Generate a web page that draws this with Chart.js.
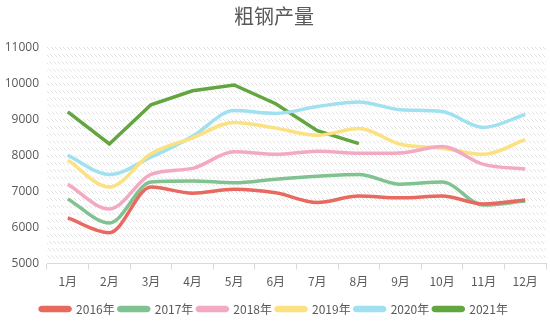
<!DOCTYPE html>
<html>
<head>
<meta charset="utf-8">
<script src="https://cdn.jsdelivr.net/npm/chart.js@4"></script>
<style>
  body { margin: 0; background: #fff; }
  #wrap { width: 550px; height: 326px; }
</style>
</head>
<body>
<div id="wrap"><canvas id="lineChart"></canvas></div>
<script>
const months = ["1月", "2月", "3月", "4月", "5月", "6月", "7月", "8月", "9月", "10月", "11月", "12月"];
const y2016 = [6270, 5860, 7130, 6960, 7070, 6970, 6700, 6880, 6830, 6880, 6660, 6770];
const y2017 = [6800, 6130, 7270, 7300, 7250, 7350, 7430, 7480, 7210, 7270, 6630, 6740];
const y2018 = [7210, 6520, 7480, 7650, 8110, 8040, 8130, 8070, 8080, 8260, 7760, 7630];
const y2019 = [7880, 7130, 8060, 8500, 8930, 8770, 8570, 8760, 8320, 8210, 8040, 8450];
const y2020 = [8010, 7480, 7960, 8540, 9260, 9180, 9370, 9500, 9280, 9230, 8790, 9150];
const y2021 = [9220, 8330, 9420, 9810, 9970, 9450, 8700, 8340];
const yTicks = [5000, 6000, 7000, 8000, 9000, 10000, 11000];

// 斜线网格背景
const hatch = document.createElement("canvas");
hatch.width = 4; hatch.height = 4;
const hc = hatch.getContext("2d");
hc.strokeStyle = "#e2e2e2";
hc.lineWidth = 1;
hc.beginPath();
hc.moveTo(0, 0); hc.lineTo(4, 4);
hc.stroke();

const hatchBands = {
	id: "hatchBands",
	beforeDatasetsDraw(chart) {
		const { ctx, chartArea, scales } = chart;
		const pat = ctx.createPattern(hatch, "repeat");
		ctx.save();
		ctx.fillStyle = pat;
		for (let v = 5200; v <= 11000; v += 200) {
			const py = scales.y.getPixelForValue(v);
			ctx.fillRect(chartArea.left, py - 1, chartArea.right - chartArea.left, 3);
		}
		ctx.restore();
	}
};

const mk = (label, data, color, tension) => ({
	label: label,
	data: data,
	borderColor: color,
	backgroundColor: color,
	borderWidth: 3.5,
	pointRadius: 0,
	tension: tension,
	cubicInterpolationMode: tension ? "monotone" : "default",
	fill: false
});

const ctx = document.getElementById("lineChart").getContext("2d");
new Chart(ctx, {
	type: "line",
	data: {
		labels: months,
		datasets: [
			mk("2016年", y2016, "#e8695f", 0.4),
			mk("2017年", y2017, "#80c290", 0.4),
			mk("2018年", y2018, "#f4a9c2", 0.4),
			mk("2019年", y2019, "#fbe17f", 0.4),
			mk("2020年", y2020, "#9fe1f0", 0.4),
			mk("2021年", y2021, "#63a53e", 0)
		]
	},
	options: {
		responsive: true,
		maintainAspectRatio: false,
		animation: false,
		layout: { padding: { left: 2, right: 4, top: 0, bottom: 1 } },
		plugins: {
			title: {
				display: true,
				text: "粗钢产量",
				color: "#595959",
				font: { family: "Noto Sans CJK SC", size: 20, weight: "normal" },
				padding: { top: 4, bottom: 20 }
			},
			legend: {
				position: "bottom",
				labels: {
					color: "#595959",
					font: { family: "Noto Sans CJK SC", size: 12 },
					boxWidth: 30,
					boxHeight: 3,
					padding: 4,
					useBorderRadius: true,
					borderRadius: 2
				}
			},
			tooltip: { enabled: false }
		},
		scales: {
			x: {
				offset: true,
				afterFit: axis => { axis.height += 5; },
				grid: {
					display: true,
					drawOnChartArea: false,
					color: "#d9d9d9",
					tickLength: 6,
					offset: true
				},
				border: { color: "#d9d9d9" },
				ticks: {
					color: "#595959",
					font: { family: "Noto Sans CJK SC", size: 12 },
					maxRotation: 0,
					padding: 5
				}
			},
			y: {
				min: 5000,
				max: 11000,
				afterBuildTicks: axis => { axis.ticks = yTicks.map(v => ({ value: v })); },
				afterFit: axis => { axis.width = 45; },
				grid: { display: false, drawTicks: false },
				border: { display: false },
				ticks: {
					color: "#595959",
					font: { family: "Open Sans", size: 12 },
					padding: 8,
					callback: v => String(v)
				}
			}
		}
	},
	plugins: [hatchBands]
});
</script>
</body>
</html>
